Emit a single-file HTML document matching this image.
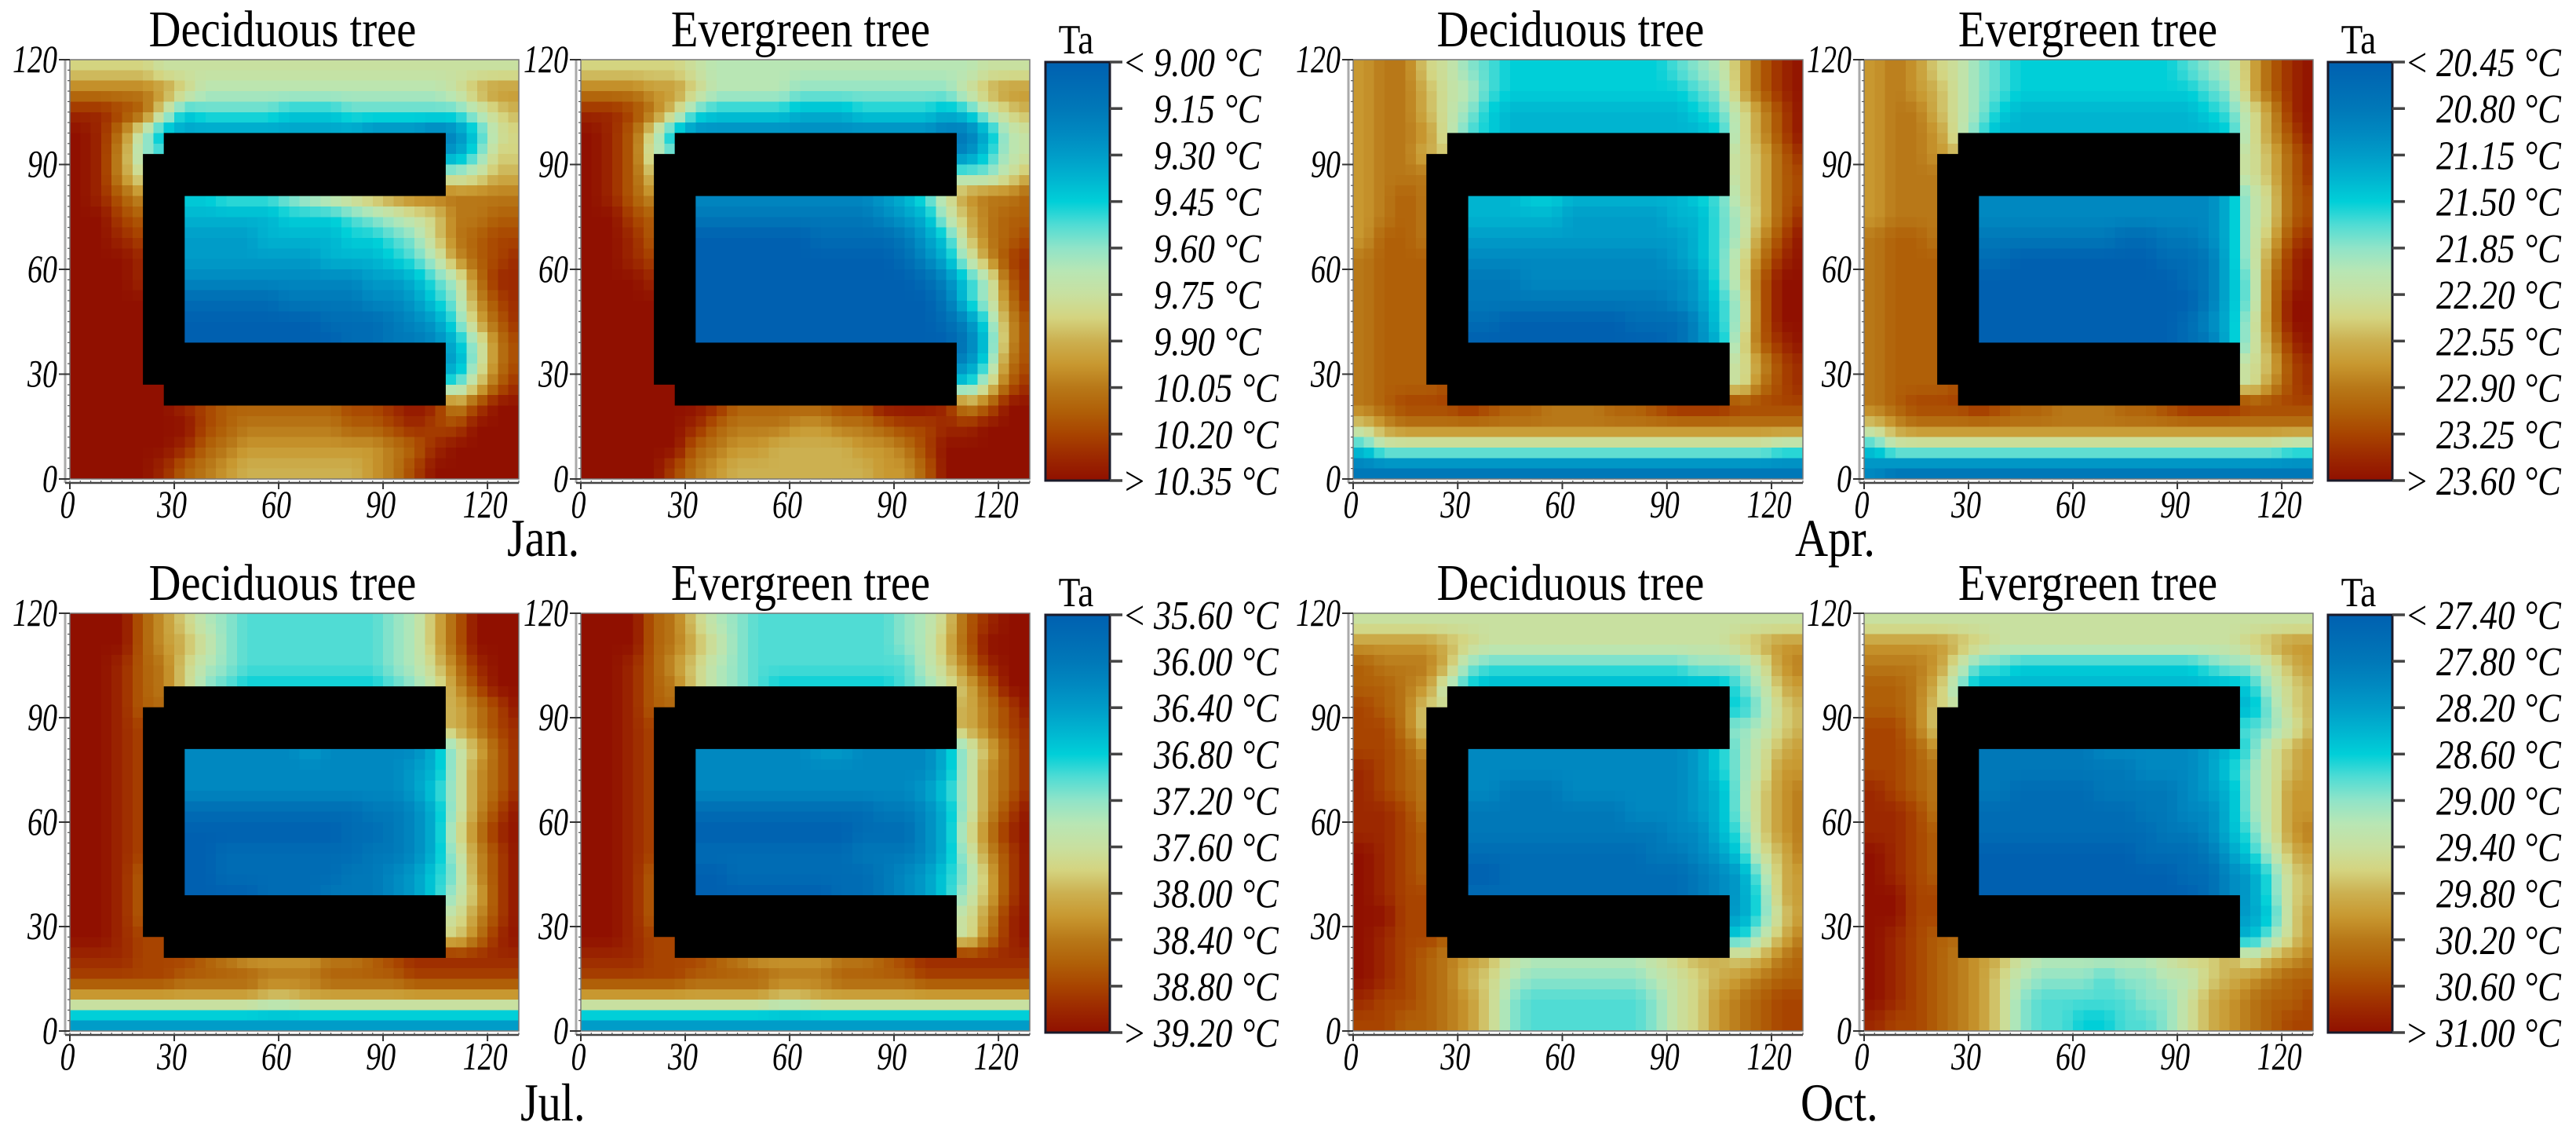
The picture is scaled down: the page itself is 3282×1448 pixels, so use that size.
<!DOCTYPE html>
<html lang="en">
<head>
<meta charset="utf-8">
<title>Air temperature maps by month and tree type</title>
<style>
html,body{margin:0;padding:0;background:#fff;width:3282px;height:1448px;overflow:hidden}
svg{display:block}
text{font-family:"Liberation Serif",serif;fill:#000}
.title{font-size:66px}
.month{font-size:68px}
.ta{font-size:53px}
</style>
</head>
<body>
<svg id="chart" xmlns="http://www.w3.org/2000/svg" width="3282" height="1448" viewBox="0 0 3282 1448">
  <rect width="3282" height="1448" fill="#fff"/>
  <defs id="defs"></defs>
  <g id="plots"></g>
  <text class="title" transform="translate(360,59) scale(.857,1)" text-anchor="middle">Deciduous tree</text>
  <text class="title" transform="translate(1020,59) scale(.857,1)" text-anchor="middle">Evergreen tree</text>
  <text class="title" transform="translate(2001,59) scale(.857,1)" text-anchor="middle">Deciduous tree</text>
  <text class="title" transform="translate(2660,59) scale(.857,1)" text-anchor="middle">Evergreen tree</text>
  <text class="title" transform="translate(360,764) scale(.857,1)" text-anchor="middle">Deciduous tree</text>
  <text class="title" transform="translate(1020,764) scale(.857,1)" text-anchor="middle">Evergreen tree</text>
  <text class="title" transform="translate(2001,764) scale(.857,1)" text-anchor="middle">Deciduous tree</text>
  <text class="title" transform="translate(2660,764) scale(.857,1)" text-anchor="middle">Evergreen tree</text>
  <text class="ta" transform="translate(1371,68) scale(.857,1)" text-anchor="middle">Ta</text>
  <text class="ta" transform="translate(3005,68) scale(.857,1)" text-anchor="middle">Ta</text>
  <text class="ta" transform="translate(1371,772) scale(.857,1)" text-anchor="middle">Ta</text>
  <text class="ta" transform="translate(3005,772) scale(.857,1)" text-anchor="middle">Ta</text>
  <text class="month" transform="translate(646,708) scale(.857,1)">Jan.</text>
  <text class="month" transform="translate(2287,708) scale(.857,1)">Apr.</text>
  <text class="month" transform="translate(663,1427) scale(.857,1)">Jul.</text>
  <text class="month" transform="translate(2294,1427) scale(.857,1)">Oct.</text>
</svg>
<script>
// Cell values are positions on each month's colour bar: 0 = coolest label, 18 = warmest label.
// Rows run top (y=117) to bottom (y=3); columns run x=3 to x=129. _ = inside the building.
const _ = null;

const janDeciduous = [
[11,11,11,11,10,10,10,10,10,10,10,10,10,10,10,10,10,10,10,10,10,10],
[14,14,14,14,13,11,9,9,9,9,9,9,9,9,9,9,9,9,10,12,13,13],
[17,17,16,15,10,6,7,7,7,7,6,6,6,7,7,7,7,7,7,9,11,12],
[18,17,14,9,5,4,4,4,4,4,4,4,4,4,3,3,3,2,3,6,10,11],
[18,17,13,8,_,_,_,_,_,_,_,_,_,_,_,_,_,_,4,7,11,11],
[18,17,13,10,_,_,_,_,_,_,_,_,_,_,_,_,_,_,9,10,12,12],
[18,17,15,13,_,6,6,7,7,7,8,9,10,11,12,13,14,14,14,14,14,14],
[18,18,16,15,_,5,5,5,5,5,6,6,6,7,8,9,10,11,14,14,15,15],
[18,18,17,16,_,4,4,4,4,5,5,5,5,6,6,7,8,11,14,15,16,16],
[18,18,18,17,_,4,4,4,4,4,4,4,5,5,5,6,7,9,13,15,16,17],
[18,18,18,17,_,3,3,3,3,3,3,3,3,3,4,4,5,7,9,14,17,17],
[18,18,18,18,_,1,1,1,1,1,2,2,2,2,3,3,4,6,8,13,16,17],
[18,18,18,18,_,0,0,0,0,0,0,0,1,1,1,2,3,4,7,12,15,17],
[18,18,18,18,_,0,0,0,0,0,0,0,0,1,1,2,2,3,5,9,14,16],
[18,18,18,18,_,_,_,_,_,_,_,_,_,_,_,_,_,_,4,9,14,16],
[18,18,18,18,_,_,_,_,_,_,_,_,_,_,_,_,_,_,7,11,15,17],
[18,18,18,18,18,17,16,15,15,15,15,15,15,16,16,17,18,17,13,16,18,18],
[18,18,18,18,18,18,16,15,14,14,14,14,14,15,15,16,17,16,16,18,18,18],
[18,18,18,18,18,17,15,14,13,13,13,13,13,13,13,14,15,17,18,18,18,18],
[18,18,18,18,17,15,14,13,12,12,12,12,12,12,13,14,16,18,18,18,18,18]
];
const janEvergreen = [
[11,11,11,11,11,10,9,9,9,9,9,9,9,9,9,9,9,9,9,10,10,10],
[14,14,14,13,13,11,9,9,9,9,8,8,8,8,8,8,8,8,10,12,13,13],
[17,17,16,14,11,7,6,6,6,6,5,5,5,6,6,6,6,5,6,9,11,12],
[18,17,15,10,5,3,3,3,3,3,3,3,3,3,3,3,3,2,2,5,9,10],
[18,17,15,9,_,_,_,_,_,_,_,_,_,_,_,_,_,_,3,6,9,10],
[18,17,15,11,_,_,_,_,_,_,_,_,_,_,_,_,_,_,8,8,10,12],
[18,17,15,13,_,3,3,3,3,3,3,3,3,3,4,5,7,10,13,14,14,15],
[18,18,16,15,_,2,2,2,2,2,2,2,2,2,3,4,5,9,12,14,15,15],
[18,18,17,15,_,0,0,0,0,0,0,1,1,1,1,2,4,6,11,14,15,16],
[18,18,17,16,_,0,0,0,0,0,0,0,0,0,0,1,3,5,9,13,16,17],
[18,18,18,17,_,0,0,0,0,0,0,0,0,0,0,0,1,3,6,9,15,17],
[18,18,18,18,_,0,0,0,0,0,0,0,0,0,0,0,0,2,6,9,14,17],
[18,18,18,18,_,0,0,0,0,0,0,0,0,0,0,0,0,1,3,7,13,16],
[18,18,18,18,_,0,0,0,0,0,0,0,0,0,0,0,0,0,2,6,13,16],
[18,18,18,18,_,_,_,_,_,_,_,_,_,_,_,_,_,_,3,7,14,16],
[18,18,18,18,_,_,_,_,_,_,_,_,_,_,_,_,_,_,6,10,15,17],
[18,18,18,18,18,18,17,15,15,15,15,15,16,16,18,18,18,17,13,15,18,18],
[18,18,18,18,18,17,15,14,14,14,13,13,14,14,15,16,16,17,17,18,18,18],
[18,18,18,18,18,15,14,13,13,12,12,12,12,13,13,14,16,18,18,18,18,18],
[18,18,18,18,16,14,13,12,12,12,12,12,12,12,13,13,15,18,18,18,18,18]
];
const aprDeciduous = [
[13,14,14,11,10,8,7,6,6,6,6,6,6,6,6,7,8,9,12,15,17,18],
[13,14,14,12,10,9,7,6,6,6,6,6,6,6,6,6,7,8,12,15,17,18],
[13,14,14,12,10,8,6,5,5,5,5,5,5,5,5,5,6,7,10,13,16,18],
[13,14,14,13,10,7,6,5,5,5,5,5,5,5,5,5,5,6,10,13,16,18],
[13,14,14,12,_,_,_,_,_,_,_,_,_,_,_,_,_,_,10,12,15,17],
[13,14,14,14,_,_,_,_,_,_,_,_,_,_,_,_,_,_,10,12,15,16],
[13,14,15,14,_,5,5,5,6,6,5,5,5,5,5,5,6,7,10,12,15,16],
[13,14,15,14,_,5,5,5,5,5,4,4,4,4,4,5,5,7,9,12,15,17],
[13,15,15,14,_,4,4,4,4,4,4,4,4,4,4,4,5,7,9,13,16,18],
[14,15,15,15,_,3,3,3,3,3,3,3,3,3,3,4,5,7,10,14,17,18],
[14,15,15,15,_,2,2,2,3,3,3,3,3,3,3,3,4,7,10,15,18,18],
[14,15,15,15,_,2,2,2,2,2,2,2,2,2,2,3,4,6,9,15,18,18],
[14,15,15,15,_,1,1,0,0,0,0,0,0,1,1,1,3,6,9,15,18,18],
[14,15,15,15,_,0,0,0,0,0,0,0,0,0,0,1,3,5,10,15,17,18],
[14,15,15,15,_,_,_,_,_,_,_,_,_,_,_,_,_,_,10,13,16,17],
[14,15,15,15,_,_,_,_,_,_,_,_,_,_,_,_,_,_,10,14,16,17],
[14,15,16,16,16,17,16,15,15,14,14,14,15,15,16,17,17,17,16,16,16,16],
[11,13,14,14,14,14,14,14,14,14,14,14,14,14,14,14,14,14,14,14,14,14],
[6,9,9,9,9,9,9,9,9,9,9,9,9,9,9,9,9,9,9,9,8,8],
[2,2,2,2,2,2,2,2,2,2,2,2,2,2,2,2,2,2,2,2,2,2]
];
const aprEvergreen = [
[13,14,13,11,10,8,7,6,6,6,6,6,6,6,6,7,8,9,12,15,17,18],
[13,14,13,12,10,8,7,6,6,6,6,6,6,6,6,6,7,8,12,15,17,18],
[13,14,14,12,10,8,6,5,5,5,5,5,5,5,5,5,6,7,10,13,17,18],
[13,14,14,13,10,7,5,5,5,5,5,5,5,5,5,5,5,6,10,13,16,18],
[13,14,14,13,_,_,_,_,_,_,_,_,_,_,_,_,_,_,10,12,15,17],
[13,14,14,14,_,_,_,_,_,_,_,_,_,_,_,_,_,_,10,12,15,17],
[13,14,14,14,_,3,3,3,3,3,3,3,3,3,3,3,3,5,9,11,15,16],
[13,14,14,14,_,3,3,3,3,3,3,3,3,3,3,3,3,5,9,11,15,16],
[14,15,15,14,_,2,2,2,2,2,2,2,1,1,2,2,3,5,9,12,16,17],
[14,15,15,15,_,1,1,0,0,0,0,0,0,0,1,1,2,5,9,13,17,18],
[14,15,15,15,_,0,0,0,0,0,0,0,0,0,0,1,2,5,8,14,17,18],
[14,15,15,15,_,0,0,0,0,0,0,0,0,0,0,0,2,5,8,14,18,18],
[14,15,15,15,_,0,0,0,0,0,0,0,0,0,0,1,3,5,9,14,18,18],
[14,15,15,15,_,0,0,0,0,0,0,0,0,0,0,1,2,5,9,13,17,18],
[14,15,15,15,_,_,_,_,_,_,_,_,_,_,_,_,_,_,10,12,16,17],
[14,15,15,15,_,_,_,_,_,_,_,_,_,_,_,_,_,_,10,13,16,17],
[14,15,16,16,16,17,16,15,15,14,14,14,15,15,16,17,17,17,16,16,16,16],
[11,13,14,14,14,14,14,14,14,14,14,14,14,14,14,14,14,14,14,14,14,14],
[6,9,9,9,9,9,9,9,9,9,9,9,9,9,9,9,9,9,9,9,8,8],
[3,2,2,2,2,2,2,2,2,2,2,2,2,2,2,2,2,2,2,2,2,2]
];
const julDeciduous = [
[18,18,18,15,13,11,9,8,7,7,7,7,7,7,7,8,9,12,15,18,18,18],
[18,18,18,15,13,12,10,8,7,7,7,7,7,7,7,8,9,12,15,18,18,18],
[18,18,17,15,14,11,9,8,7,7,7,7,7,7,7,8,9,11,14,17,18,18],
[18,18,17,15,14,11,8,7,6,6,6,6,6,6,6,7,8,10,13,16,18,18],
[18,18,17,15,_,_,_,_,_,_,_,_,_,_,_,_,_,_,12,14,16,18],
[18,18,17,16,_,_,_,_,_,_,_,_,_,_,_,_,_,_,12,14,16,17],
[18,18,17,16,_,3,3,3,3,3,3,4,3,3,3,3,3,5,9,12,15,17],
[18,18,17,16,_,3,3,3,3,3,3,3,3,3,3,3,4,5,9,13,15,17],
[18,18,17,16,_,3,3,3,3,3,3,3,3,3,3,3,4,6,9,13,15,17],
[18,18,17,16,_,1,1,1,1,1,1,1,1,1,2,2,3,5,9,13,16,18],
[18,18,17,16,_,0,0,0,0,0,0,0,0,1,1,2,3,5,10,14,17,18],
[18,18,17,16,_,0,0,1,1,1,1,1,1,1,2,2,3,5,9,13,16,18],
[18,18,17,15,_,0,0,1,1,1,1,1,1,2,2,3,4,6,8,13,16,18],
[18,18,17,15,_,0,0,0,0,1,1,1,2,2,2,3,4,6,9,12,16,18],
[18,18,17,15,_,_,_,_,_,_,_,_,_,_,_,_,_,_,10,13,16,18],
[18,18,17,16,_,_,_,_,_,_,_,_,_,_,_,_,_,_,11,14,17,18],
[17,17,17,16,16,16,15,14,13,13,13,13,14,14,15,16,17,17,17,17,17,17],
[16,16,16,16,16,15,15,15,15,14,14,14,15,15,15,15,16,16,16,16,16,16],
[12,12,12,12,12,12,12,12,12,11,11,12,12,12,12,12,12,12,12,12,12,12],
[4,4,4,4,4,4,4,4,4,4,4,4,4,4,4,4,4,4,4,4,4,4]
];
const julEvergreen = [
[18,18,18,15,14,11,9,8,7,7,7,7,7,7,7,8,9,11,15,17,18,18],
[18,18,18,15,14,12,10,8,7,7,7,7,7,7,7,8,9,12,15,18,18,18],
[18,18,17,15,13,11,9,8,7,7,7,7,7,7,7,7,9,11,14,17,18,18],
[18,18,17,15,14,11,9,8,7,6,6,6,6,6,6,7,8,10,12,15,18,18],
[18,18,17,15,_,_,_,_,_,_,_,_,_,_,_,_,_,_,12,14,16,18],
[18,18,17,16,_,_,_,_,_,_,_,_,_,_,_,_,_,_,12,14,16,17],
[18,18,17,16,_,3,3,3,3,3,3,4,4,3,3,3,3,5,9,12,15,17],
[18,18,17,16,_,3,3,3,3,3,3,3,3,3,3,3,3,5,9,13,15,17],
[18,18,17,16,_,3,3,3,3,3,3,3,3,3,3,3,4,6,9,13,15,17],
[18,18,17,16,_,1,1,1,1,1,1,1,1,1,2,2,3,5,9,13,16,18],
[18,18,17,16,_,0,0,0,0,0,0,0,0,1,1,1,3,5,10,14,17,18],
[18,18,17,16,_,1,1,1,1,1,1,1,1,2,2,2,3,5,9,13,16,18],
[18,18,17,15,_,0,0,1,1,1,1,1,1,1,2,3,4,6,8,12,16,18],
[18,18,17,15,_,0,0,0,0,0,0,0,1,1,2,3,4,6,9,12,16,18],
[18,18,17,15,_,_,_,_,_,_,_,_,_,_,_,_,_,_,10,13,17,18],
[18,18,17,16,_,_,_,_,_,_,_,_,_,_,_,_,_,_,10,14,17,18],
[17,17,17,16,16,16,15,14,13,13,13,13,14,14,15,16,17,17,17,17,17,17],
[16,16,16,16,16,15,15,15,15,14,14,14,15,15,15,15,16,16,16,16,16,16],
[12,12,12,12,12,12,12,12,12,11,11,12,12,12,12,12,12,12,12,12,12,12],
[4,4,4,4,4,4,4,4,4,4,4,4,4,4,4,4,4,4,4,4,4,4]
];
const octDeciduous = [
[10,10,10,10,10,10,10,10,10,10,10,10,10,10,10,10,10,10,10,10,10,10],
[13,13,13,13,12,11,10,10,10,10,10,10,10,10,10,10,10,10,11,12,13,13],
[15,14,14,14,12,8,7,7,7,7,7,7,7,7,7,7,8,8,8,10,13,14],
[15,15,14,13,9,6,5,5,5,5,5,5,5,5,5,5,5,5,7,9,12,13],
[16,15,14,11,_,_,_,_,_,_,_,_,_,_,_,_,_,_,6,8,11,12],
[16,16,14,11,_,_,_,_,_,_,_,_,_,_,_,_,_,_,8,9,11,12],
[16,16,15,13,_,3,3,3,3,3,3,3,3,3,3,3,4,6,8,10,12,13],
[17,16,15,14,_,3,3,3,3,3,3,3,3,3,3,3,4,6,8,10,13,13],
[17,16,15,14,_,3,3,2,2,2,3,3,3,3,3,3,4,5,8,11,13,14],
[17,17,16,14,_,2,2,2,2,2,2,2,2,3,3,3,4,5,8,11,13,14],
[17,17,16,15,_,2,2,2,2,2,2,2,2,2,2,3,3,5,7,11,13,14],
[18,17,16,15,_,1,1,1,1,1,1,1,1,1,2,2,3,4,6,10,12,14],
[18,17,16,15,_,0,0,1,1,1,1,1,1,1,1,1,2,3,4,8,12,13],
[18,17,16,16,_,1,1,1,1,1,1,1,1,1,1,1,2,3,4,7,12,13],
[18,18,16,16,_,_,_,_,_,_,_,_,_,_,_,_,_,_,4,7,11,13],
[18,17,16,16,_,_,_,_,_,_,_,_,_,_,_,_,_,_,6,9,12,14],
[18,17,16,15,14,13,12,10,9,9,9,9,9,9,10,11,12,12,11,12,14,15],
[18,17,16,15,14,12,11,9,8,8,8,8,8,8,9,10,11,12,13,14,15,15],
[17,16,16,15,14,13,11,8,7,7,7,7,7,7,8,10,11,13,14,15,16,16],
[16,16,15,15,14,13,11,8,7,7,7,7,7,7,8,10,11,13,14,15,16,16]
];
const octEvergreen = [
[10,10,10,10,10,10,10,10,10,10,10,10,10,10,10,10,10,10,10,10,10,10],
[13,13,13,13,12,11,10,10,10,10,10,10,10,10,10,10,10,10,11,12,13,13],
[14,14,14,13,10,7,7,6,6,6,6,6,6,6,6,6,7,8,8,10,12,13],
[15,15,14,12,8,5,5,5,5,5,5,5,5,5,5,5,5,5,6,9,11,12],
[15,15,14,11,_,_,_,_,_,_,_,_,_,_,_,_,_,_,5,8,11,12],
[16,16,14,11,_,_,_,_,_,_,_,_,_,_,_,_,_,_,7,8,10,12],
[16,16,15,13,_,2,2,2,2,2,2,3,3,3,3,3,4,5,7,10,12,13],
[16,16,15,14,_,2,2,2,2,2,2,2,2,3,3,3,4,6,8,10,12,13],
[17,16,15,14,_,2,2,1,1,1,1,2,2,2,2,3,4,5,8,10,13,13],
[17,17,16,14,_,1,1,1,1,1,1,1,1,2,2,3,3,5,8,10,13,13],
[17,17,16,15,_,1,1,1,1,1,1,1,1,1,2,2,3,5,7,10,13,14],
[18,17,16,15,_,0,0,0,0,0,0,0,0,1,1,1,2,4,6,9,12,13],
[18,17,16,15,_,0,0,0,0,0,0,0,0,0,0,1,1,3,4,7,11,12],
[18,18,16,16,_,0,0,0,0,0,0,0,0,0,0,0,1,3,4,7,11,12],
[18,18,16,16,_,_,_,_,_,_,_,_,_,_,_,_,_,_,4,6,11,13],
[18,17,16,15,_,_,_,_,_,_,_,_,_,_,_,_,_,_,5,8,11,13],
[18,17,16,15,14,13,12,10,9,9,9,9,9,9,10,11,11,12,10,12,13,14],
[18,17,16,15,14,13,11,9,8,8,8,7,8,8,9,9,11,12,13,14,15,15],
[18,17,16,15,14,13,11,8,7,7,7,7,7,8,8,10,12,13,14,15,15,16],
[17,16,16,15,14,13,11,8,7,7,6,6,7,7,8,10,12,13,14,15,16,16]
];

const xTickValues = [0,30,60,90,120];
const yTickValues = [0,30,60,90,120];
const janLabels = ["9.00","9.15","9.30","9.45","9.60","9.75","9.90","10.05","10.20","10.35"];
const aprLabels = ["20.45","20.80","21.15","21.50","21.85","22.20","22.55","22.90","23.25","23.60"];
const julLabels = ["35.60","36.00","36.40","36.80","37.20","37.60","38.00","38.40","38.80","39.20"];
const octLabels = ["27.40","27.80","28.20","28.60","29.00","29.40","29.80","30.20","30.60","31.00"];
const buildingX = [27,108,108,33,33,108,108,27,27,21,21,27];
const buildingY = [99,99,81,81,39,39,21,21,27,27,93,93];

const colourRamp = [
 [0,"#0060b0"],[2,"#0078b8"],[3,"#0088c0"],[4,"#009cc8"],[5,"#00b4d0"],[6,"#00cfd8"],
 [7,"#50dcd4"],[8,"#90e4c8"],[9,"#b8e6b4"],[10,"#c8e0a0"],[11,"#d4d480"],[12,"#ccb050"],
 [13,"#c89830"],[14,"#b87818"],[15,"#b06008"],[16,"#a84400"],[17,"#9c2800"],[18,"#901000"]
];

const NS = "http://www.w3.org/2000/svg";
const X_MAX = 129, Y_MAX = 120, CELL = 3, DATA_CELL = 6;

function hexToRgb(h){return [1,3,5].map(k=>parseInt(h.substr(k,2),16));}
function colourFor(v){
  const t = Math.max(0,Math.min(18,v));
  for(let k=0;k<colourRamp.length-1;k++){
    const a=colourRamp[k], b=colourRamp[k+1];
    if(t<=b[0]){
      const f=(t-a[0])/(b[0]-a[0]), ca=hexToRgb(a[1]), cb=hexToRgb(b[1]);
      return "rgb("+ca.map((c,i)=>Math.round(c+(cb[i]-c)*f)).join(",")+")";
    }
  }
  return colourRamp[colourRamp.length-1][1];
}
// Value of the grid at a data coordinate, ignoring building cells.
function gridValue(grid,x,y){
  const fx=x/DATA_CELL-0.5, fy=(Y_MAX-y)/DATA_CELL-0.5;
  const rows=grid.length, cols=grid[0].length;
  const x0=Math.floor(fx), y0=Math.floor(fy), dx=fx-x0, dy=fy-y0;
  let sum=0, weight=0;
  [[x0,y0,(1-dx)*(1-dy)],[x0+1,y0,dx*(1-dy)],[x0,y0+1,(1-dx)*dy],[x0+1,y0+1,dx*dy]].forEach(p=>{
    const c=Math.max(0,Math.min(cols-1,p[0])), r=Math.max(0,Math.min(rows-1,p[1]));
    const v=grid[r][c];
    if(v!==null && v!==undefined && p[2]>0){sum+=v*p[2];weight+=p[2];}
  });
  return weight>0?sum/weight:null;
}
function make(tag,parent,attrs){
  const el=document.createElementNS(NS,tag);
  for(const k in attrs)el.setAttribute(k,attrs[k]);
  parent.appendChild(el);
  return el;
}

function drawPanel(root,cfg){
  const g=make("g",root,{});
  
  
  const xS=v=>cfg.left+v*(cfg.right-cfg.left)/X_MAX;
  const yS=v=>cfg.bottom-v*(cfg.bottom-cfg.top)/Y_MAX;

  for(let j=0;j<Y_MAX/CELL;j++){
    for(let i=0;i<X_MAX/CELL;i++){
      const v=gridValue(cfg.grid,(i+0.5)*CELL,Y_MAX-(j+0.5)*CELL);
      if(v===null)continue;
      const x0=xS(i*CELL), x1=xS((i+1)*CELL), y0=yS(Y_MAX-j*CELL), y1=yS(Y_MAX-(j+1)*CELL);
      const cell=make("rect",g,{x:x0.toFixed(2),y:y0.toFixed(2),width:(x1-x0+0.6).toFixed(2),height:(y1-y0+0.6).toFixed(2),fill:colourFor(v),"shape-rendering":"crispEdges"});
      
      
    }
  }
  const building=make("polygon",g,{points:buildingX.map((x,k)=>xS(x).toFixed(1)+","+yS(buildingY[k]).toFixed(1)).join(" "),fill:"#000"});
  
  

  const frame=make("rect",g,{x:cfg.left,y:cfg.top,width:cfg.right-cfg.left,height:cfg.bottom-cfg.top,fill:"none",stroke:"#777","stroke-width":1.5});
  
  

  const axisX=cfg.left-6, axisY=cfg.bottom+5;
  const yAxis=make("line",g,{x1:axisX,x2:axisX,y1:cfg.top,y2:axisY,stroke:"#aaa","stroke-width":3});
  
  
  const xAxis=make("line",g,{x1:axisX,x2:cfg.right,y1:axisY,y2:axisY,stroke:"#444","stroke-width":2.5});
  
  

  for(let v=0;v<=Y_MAX;v+=CELL){
    const t=make("line",g,{x1:cfg.left-3,x2:cfg.left,y1:yS(v),y2:yS(v),stroke:"#555","stroke-width":1.2});
    
    
  }
  for(let v=0;v<=X_MAX;v+=CELL){
    const t=make("line",g,{x1:xS(v),x2:xS(v),y1:axisY-3,y2:axisY,stroke:"#555","stroke-width":1.2});
    
    
  }
  yTickValues.forEach(v=>{
    const t=make("line",g,{x1:cfg.left-14,x2:cfg.left,y1:yS(v),y2:yS(v),stroke:"#333","stroke-width":2});
    
    
    const label=make("text",g,{transform:"translate("+(cfg.left-16)+","+(yS(v)+16)+") scale(.76,1)","text-anchor":"end","font-size":50,"font-style":"italic"});
    
    
    label.textContent=v;
  });
  xTickValues.forEach(v=>{
    const t=make("line",g,{x1:xS(v),x2:xS(v),y1:axisY,y2:axisY+8,stroke:"#333","stroke-width":2});
    
    
    const label=make("text",g,{transform:"translate("+(xS(v)-3)+","+(cfg.bottom+49)+") scale(.76,1)","text-anchor":"middle","font-size":50,"font-style":"italic"});
    
    
    label.textContent=v;
  });
}

function drawColorbar(root,cfg){
  const g=make("g",root,{});
  
  
  const bar=make("rect",g,{x:cfg.left,y:cfg.top,width:cfg.right-cfg.left,height:cfg.bottom-cfg.top,fill:"url(#ramp)",stroke:"#1a1a2a","stroke-width":3});
  
  
  const step=(cfg.bottom-cfg.top)/(cfg.labels.length-1);
  cfg.labels.forEach((text,k)=>{
    const y=cfg.top+k*step;
    const t=make("line",g,{x1:cfg.right,x2:cfg.right+16,y1:y,y2:y,stroke:"#444","stroke-width":3.5});
    
    
    const label=make("text",g,{transform:"translate("+(cfg.right+56)+","+(y+18)+") scale(.857,1)","font-size":52,"font-style":"italic"});
    
    
    label.textContent=text+"\u00a0\u00b0C";
    if(k===0||k===cfg.labels.length-1){
      const sign=make("text",g,{transform:"translate("+(cfg.right+19)+","+(y+18)+") scale(.857,1)","font-size":52});
      
      
      sign.textContent=k===0?"<":">";
    }
  });
}

const defs=document.getElementById("defs");
const gradient=make("linearGradient",defs,{id:"ramp",x1:0,y1:0,x2:0,y2:1});
colourRamp.forEach(s=>{make("stop",gradient,{offset:s[0]/18,"stop-color":s[1]});});

const root=document.getElementById("plots");
const ROW1={top:76,bottom:610}, ROW2={top:781,bottom:1313};
[
 {name:"jan-deciduous",grid:janDeciduous,left:89,right:661,row:ROW1},
 {name:"jan-evergreen",grid:janEvergreen,left:740,right:1312,row:ROW1},
 {name:"apr-deciduous",grid:aprDeciduous,left:1724,right:2297,row:ROW1},
 {name:"apr-evergreen",grid:aprEvergreen,left:2375,right:2947,row:ROW1},
 {name:"jul-deciduous",grid:julDeciduous,left:89,right:661,row:ROW2},
 {name:"jul-evergreen",grid:julEvergreen,left:740,right:1312,row:ROW2},
 {name:"oct-deciduous",grid:octDeciduous,left:1724,right:2297,row:ROW2},
 {name:"oct-evergreen",grid:octEvergreen,left:2375,right:2947,row:ROW2}
].forEach(p=>drawPanel(root,{name:p.name,grid:p.grid,left:p.left,right:p.right,top:p.row.top,bottom:p.row.bottom}));

[
 {name:"jan",labels:janLabels,left:1332,right:1414,top:79,bottom:612},
 {name:"apr",labels:aprLabels,left:2966,right:3048,top:79,bottom:612},
 {name:"jul",labels:julLabels,left:1332,right:1414,top:783,bottom:1315},
 {name:"oct",labels:octLabels,left:2966,right:3048,top:783,bottom:1315}
].forEach(c=>drawColorbar(root,c));
</script>
</body>
</html>
